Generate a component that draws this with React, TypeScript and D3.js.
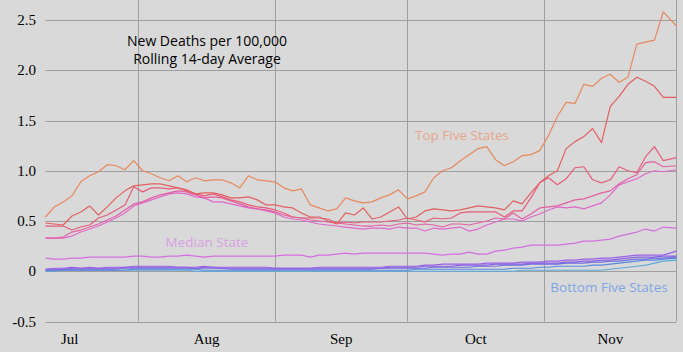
import React from "react";
import * as d3 from "d3";

const WIDTH = 683;
const HEIGHT = 352;

// Daily series sampled every second day from Jul 11, the last sample is Dec 1.
const firstDay = new Date(2020, 6, 11);
const lastDay = new Date(2020, 11, 1);
const sampleDates: Date[] = d3.timeDay.range(firstDay, new Date(2020, 10, 30), 2).concat([lastDay]);

const topColors = ["#e8885e", "#e2605e", "#e65c7a", "#e45fa2", "#df68cc"];
const top1 = [
    0.54, 0.64, 0.69, 0.75, 0.89, 0.95, 0.99, 1.06, 1.05, 1.01, 1.10, 1.00,
    0.97, 0.93, 0.90, 0.95, 0.89, 0.93, 0.90, 0.91, 0.91, 0.88, 0.83, 0.95,
    0.91, 0.90, 0.89, 0.83, 0.80, 0.82, 0.66, 0.63, 0.60, 0.62, 0.73, 0.70,
    0.68, 0.69, 0.73, 0.76, 0.81, 0.72, 0.75, 0.79, 0.93, 1.00, 1.03, 1.10,
    1.16, 1.22, 1.24, 1.11, 1.05, 1.09, 1.15, 1.16, 1.20, 1.35, 1.54, 1.68,
    1.67, 1.86, 1.84, 1.92, 1.96, 1.88, 1.93, 2.26, 2.28, 2.30, 2.58, 2.44,
];
const top2 = [
    0.48, 0.47, 0.46, 0.55, 0.59, 0.65, 0.56, 0.64, 0.73, 0.80, 0.85, 0.86,
    0.87, 0.87, 0.85, 0.83, 0.81, 0.77, 0.78, 0.78, 0.76, 0.73, 0.73, 0.74,
    0.71, 0.66, 0.66, 0.64, 0.63, 0.58, 0.54, 0.54, 0.50, 0.47, 0.58, 0.56,
    0.63, 0.52, 0.54, 0.59, 0.64, 0.52, 0.54, 0.60, 0.62, 0.61, 0.60, 0.61,
    0.63, 0.65, 0.64, 0.63, 0.61, 0.70, 0.67, 0.78, 0.88, 0.95, 1.00, 1.22,
    1.29, 1.34, 1.42, 1.28, 1.64, 1.74, 1.86, 1.93, 1.89, 1.84, 1.73, 1.73,
];
const top3 = [
    0.45, 0.45, 0.45, 0.41, 0.44, 0.46, 0.53, 0.56, 0.61, 0.66, 0.84, 0.79,
    0.83, 0.83, 0.82, 0.83, 0.80, 0.77, 0.75, 0.77, 0.74, 0.71, 0.69, 0.66,
    0.64, 0.63, 0.61, 0.58, 0.54, 0.53, 0.53, 0.53, 0.52, 0.48, 0.49, 0.48,
    0.49, 0.49, 0.49, 0.50, 0.51, 0.53, 0.51, 0.49, 0.53, 0.52, 0.53, 0.58,
    0.59, 0.59, 0.59, 0.59, 0.54, 0.60, 0.60, 0.73, 0.88, 0.93, 0.86, 0.92,
    1.03, 1.04, 0.91, 0.88, 0.91, 1.04, 1.00, 0.98, 1.14, 1.24, 1.10, 1.13,
];
const top4 = [
    0.33, 0.33, 0.34, 0.39, 0.41, 0.44, 0.47, 0.51, 0.55, 0.61, 0.67, 0.69,
    0.73, 0.76, 0.78, 0.80, 0.79, 0.76, 0.73, 0.74, 0.73, 0.70, 0.67, 0.64,
    0.62, 0.61, 0.59, 0.56, 0.54, 0.53, 0.51, 0.50, 0.49, 0.48, 0.47, 0.46,
    0.45, 0.45, 0.46, 0.45, 0.47, 0.48, 0.46, 0.47, 0.46, 0.44, 0.47, 0.47,
    0.46, 0.48, 0.50, 0.53, 0.52, 0.58, 0.52, 0.57, 0.63, 0.64, 0.65, 0.68,
    0.71, 0.72, 0.75, 0.78, 0.80, 0.87, 0.92, 0.96, 1.08, 1.09, 1.04, 1.05,
];
const top5 = [
    0.33, 0.33, 0.33, 0.35, 0.39, 0.42, 0.45, 0.49, 0.53, 0.58, 0.65, 0.68,
    0.71, 0.74, 0.77, 0.78, 0.77, 0.74, 0.73, 0.69, 0.69, 0.67, 0.65, 0.63,
    0.62, 0.60, 0.58, 0.54, 0.52, 0.51, 0.49, 0.47, 0.46, 0.45, 0.44, 0.43,
    0.42, 0.43, 0.43, 0.42, 0.44, 0.43, 0.43, 0.40, 0.43, 0.42, 0.43, 0.44,
    0.40, 0.42, 0.46, 0.49, 0.52, 0.52, 0.50, 0.54, 0.57, 0.61, 0.64, 0.63,
    0.64, 0.62, 0.65, 0.68, 0.76, 0.86, 0.89, 0.92, 0.97, 1.00, 0.99, 1.01,
];

const medianColor = "#d46ee0";
const median = [
    0.13, 0.12, 0.12, 0.13, 0.13, 0.14, 0.14, 0.14, 0.14, 0.14, 0.15, 0.15,
    0.14, 0.14, 0.15, 0.15, 0.16, 0.15, 0.14, 0.15, 0.15, 0.15, 0.15, 0.15,
    0.15, 0.15, 0.15, 0.16, 0.16, 0.16, 0.14, 0.16, 0.16, 0.17, 0.18, 0.17,
    0.18, 0.18, 0.18, 0.18, 0.18, 0.18, 0.18, 0.18, 0.17, 0.16, 0.17, 0.17,
    0.19, 0.17, 0.17, 0.20, 0.21, 0.23, 0.24, 0.26, 0.26, 0.26, 0.26, 0.27,
    0.28, 0.30, 0.30, 0.31, 0.32, 0.35, 0.37, 0.39, 0.42, 0.40, 0.44, 0.43,
];

const bottomColors = ["#9c5ee6", "#8560e4", "#6f6ee0", "#5a88e0", "#5aaade"];
const bottom1 = [
    0.02, 0.03, 0.03, 0.04, 0.03, 0.04, 0.03, 0.04, 0.04, 0.04, 0.05, 0.05,
    0.05, 0.05, 0.05, 0.04, 0.04, 0.04, 0.05, 0.04, 0.04, 0.04, 0.04, 0.04,
    0.04, 0.04, 0.03, 0.03, 0.03, 0.03, 0.03, 0.04, 0.04, 0.04, 0.04, 0.04,
    0.04, 0.04, 0.04, 0.05, 0.05, 0.05, 0.05, 0.06, 0.06, 0.07, 0.07, 0.07,
    0.07, 0.07, 0.08, 0.08, 0.08, 0.08, 0.09, 0.09, 0.09, 0.10, 0.10, 0.11,
    0.11, 0.12, 0.12, 0.13, 0.13, 0.14, 0.15, 0.16, 0.16, 0.16, 0.16, 0.20,
];
const bottom2 = [
    0.02, 0.02, 0.02, 0.03, 0.03, 0.03, 0.03, 0.03, 0.03, 0.04, 0.04, 0.04,
    0.04, 0.04, 0.04, 0.04, 0.04, 0.03, 0.04, 0.04, 0.03, 0.03, 0.03, 0.03,
    0.03, 0.03, 0.03, 0.03, 0.03, 0.03, 0.03, 0.03, 0.03, 0.03, 0.03, 0.03,
    0.03, 0.03, 0.03, 0.04, 0.04, 0.04, 0.04, 0.05, 0.05, 0.05, 0.05, 0.06,
    0.06, 0.06, 0.06, 0.07, 0.07, 0.07, 0.07, 0.08, 0.08, 0.08, 0.08, 0.09,
    0.09, 0.10, 0.10, 0.11, 0.11, 0.12, 0.13, 0.14, 0.14, 0.14, 0.15, 0.15,
];
const bottom3 = [
    0.01, 0.01, 0.02, 0.02, 0.02, 0.02, 0.02, 0.02, 0.02, 0.03, 0.03, 0.03,
    0.03, 0.03, 0.03, 0.03, 0.03, 0.03, 0.03, 0.03, 0.03, 0.02, 0.02, 0.02,
    0.02, 0.02, 0.02, 0.02, 0.02, 0.02, 0.02, 0.02, 0.02, 0.02, 0.02, 0.02,
    0.02, 0.02, 0.03, 0.03, 0.03, 0.03, 0.03, 0.03, 0.04, 0.04, 0.04, 0.04,
    0.04, 0.05, 0.05, 0.05, 0.06, 0.06, 0.06, 0.07, 0.07, 0.07, 0.07, 0.08,
    0.08, 0.08, 0.09, 0.09, 0.10, 0.10, 0.11, 0.12, 0.12, 0.13, 0.13, 0.14,
];
const bottom4 = [
    0.01, 0.01, 0.01, 0.01, 0.01, 0.01, 0.01, 0.01, 0.01, 0.01, 0.02, 0.02,
    0.02, 0.02, 0.02, 0.02, 0.02, 0.02, 0.01, 0.01, 0.01, 0.01, 0.01, 0.01,
    0.01, 0.01, 0.01, 0.01, 0.01, 0.01, 0.01, 0.01, 0.01, 0.01, 0.01, 0.01,
    0.01, 0.01, 0.01, 0.01, 0.01, 0.01, 0.02, 0.02, 0.02, 0.02, 0.02, 0.02,
    0.02, 0.02, 0.02, 0.02, 0.02, 0.03, 0.03, 0.03, 0.04, 0.04, 0.05, 0.05,
    0.05, 0.05, 0.06, 0.06, 0.07, 0.08, 0.09, 0.10, 0.11, 0.11, 0.12, 0.13,
];
const bottom5 = [
    0.00, 0.00, 0.01, 0.01, 0.01, 0.01, 0.01, 0.01, 0.01, 0.01, 0.01, 0.01,
    0.01, 0.01, 0.01, 0.01, 0.01, 0.00, 0.00, 0.00, 0.00, 0.00, 0.00, 0.00,
    0.00, 0.00, 0.00, 0.00, 0.00, 0.00, 0.00, 0.00, 0.00, 0.00, 0.00, 0.00,
    0.00, 0.00, 0.00, 0.00, 0.00, 0.00, 0.00, 0.00, 0.00, 0.00, 0.00, 0.00,
    0.00, 0.00, 0.00, 0.00, 0.00, 0.00, 0.01, 0.01, 0.01, 0.01, 0.01, 0.01,
    0.01, 0.01, 0.01, 0.01, 0.02, 0.03, 0.04, 0.05, 0.06, 0.08, 0.10, 0.11,
];

const yTicks = [-0.5, 0, 0.5, 1, 1.5, 2, 2.5];
const yTickLabels = ["-0.5", "0", "0.5", "1.0", "1.5", "2.0", "2.5"];
const monthNames = ["Jul", "Aug", "Sep", "Oct", "Nov"];

const titleLines = ["New Deaths per 100,000", "Rolling 14-day Average"];

interface ISeries {
    values: number[];
    color: string;
}

// Drawn bottom group first so the top states end up on top.
const series: ISeries[] = [
    ...[bottom5, bottom4, bottom3, bottom2, bottom1].map((values, i) => {
        return { values, color: bottomColors[4 - i] };
    }),
    { values: median, color: medianColor },
    ...[top5, top4, top3, top2, top1].map((values, i) => {
        return { values, color: topColors[4 - i] };
    }),
];

const App = (): React.ReactElement => {
    const x = d3.scaleTime().domain([firstDay, lastDay]).range([45.5, 676.5]);
    const y = d3.scaleLinear().domain([-0.5, 2.5]).range([321.5, 20]);

    const line = d3.line<number>()
        .x((_, i) => { return x(sampleDates[i]); })
        .y((d) => { return y(d); });

    const monthStarts = d3.timeMonth.range(new Date(2020, 6, 1), new Date(2020, 11, 1));
    const gridMonths = monthStarts.filter((d) => { return d > firstDay; });

    const font = "'Liberation Serif', 'Times New Roman', serif";
    const labelFont = "'Open Sans', 'Liberation Sans', sans-serif";
    const gridColor = "#9f9f9f";

    return (
        <svg width={WIDTH} height={HEIGHT} style={{ position: "absolute", left: 0, top: 0 }}>
            <rect x={0} y={0} width={WIDTH} height={HEIGHT} fill="#d9d9d9" />

            {/* horizontal grid */}
            {yTicks.map((t) => {
                return (
                    <line key={"h" + t} x1={x.range()[0]} x2={x.range()[1]} y1={Math.round(y(t)) + 0.5}
                        y2={Math.round(y(t)) + 0.5} stroke={gridColor} strokeWidth={1} />
                );
            })}

            {/* vertical month grid + right border */}
            {gridMonths.map((d) => {
                const px = Math.round(x(d)) + 0.5;

                return <line key={"v" + d.getTime()} x1={px} x2={px} y1={0} y2={y(-0.5)} stroke={gridColor} />;
            })}
            <line x1={676.5} x2={676.5} y1={0} y2={y(-0.5)} stroke={gridColor} />

            {/* y tick labels */}
            {yTicks.map((t, i) => {
                return (
                    <text key={"t" + t} x={36} y={y(t) + 5} textAnchor="end" fontFamily={font}
                        fontSize={15} fill="#000">
                        {yTickLabels[i]}
                    </text>
                );
            })}

            {/* month labels centered in each month */}
            {monthStarts.map((d, i) => {
                const next = d3.timeMonth.offset(d, 1);
                const mid = new Date((d.getTime() + next.getTime()) / 2);

                return (
                    <text key={"m" + i} x={x(mid)} y={344} textAnchor="middle" fontFamily={font}
                        fontSize={15} fill="#000">
                        {monthNames[i]}
                    </text>
                );
            })}

            {/* series */}
            {series.map((s, i) => {
                return (
                    <path key={"s" + i} d={line(s.values) ?? ""} fill="none" stroke={s.color}
                        strokeWidth={1.2} strokeLinejoin="round" />
                );
            })}

            {/* title */}
            {titleLines.map((t, i) => {
                return (
                    <text key={"title" + i} x={207} y={46 + i * 18} textAnchor="middle" fontFamily={labelFont}
                        fontSize={14} fill="#000">
                        {t}
                    </text>
                );
            })}

            <text x={462} y={140} textAnchor="middle" fontFamily={labelFont} fontSize={13.5} fill="#e8a68a">
                Top Five States
            </text>
            <text x={207} y={247} textAnchor="middle" fontFamily={labelFont} fontSize={13.5} fill="#d8a0e2">
                Median State
            </text>
            <text x={609} y={292} textAnchor="middle" fontFamily={labelFont} fontSize={13.5} fill="#7ea6e6">
                Bottom Five States
            </text>
        </svg>
    );
};

export default App;
